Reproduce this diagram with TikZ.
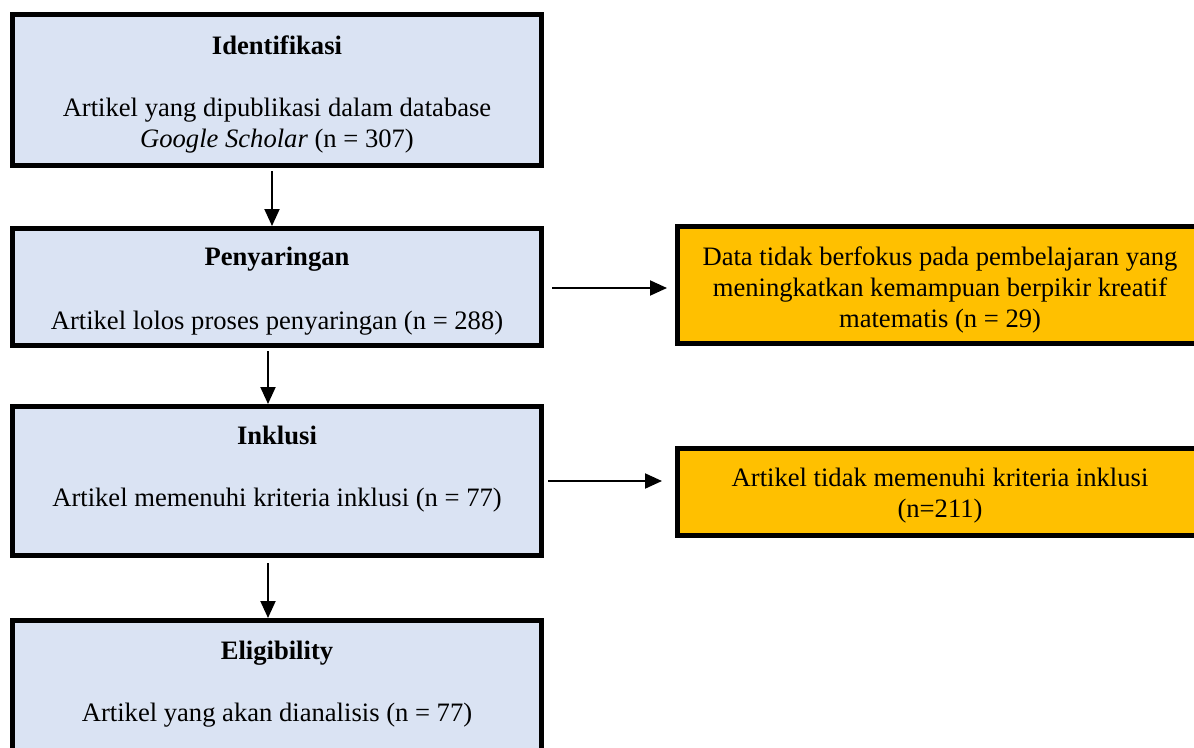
\documentclass[tikz,border=0pt]{standalone}
\usepackage{fontspec}
\setmainfont{Liberation Serif}
\usetikzlibrary{arrows.meta,calc}
\definecolor{boxblue}{HTML}{DAE3F3}
\definecolor{boxorange}{HTML}{FFC000}
\newcommand\padtop[2]{\raisebox{0pt}[\dimexpr\height+#1\relax]{#2}}
\tikzset{
  stage/.style={draw=black, line width=5pt, fill=boxblue, align=center, inner sep=0pt,
    minimum width=529pt, font=\fontsize{26.6}{31}\selectfont},
  excl/.style={draw=black, line width=5pt, fill=boxorange, align=center, inner sep=0pt,
    minimum width=525pt, font=\fontsize{26.6}{31}\selectfont},
  flow/.style={line width=2pt, -{Triangle[length=17pt,width=15pt]}},
}
\begin{document}
\begin{tikzpicture}[x=1pt,y=-1pt]
\useasboundingbox (0,0) rectangle (1194,747);
\node[stage, minimum height=151pt] (b1) at (277,90) {\padtop{8pt}{\textbf{Identifikasi}}\\ ~ \\ Artikel yang dipublikasi dalam database\\ \textit{Google Scholar} (n = 307)};
\node[stage, minimum height=117pt] (b2) at (277,287) {\padtop{9pt}{\textbf{Penyaringan}}\\[2pt] ~ \\ Artikel lolos proses penyaringan (n = 288)};
\node[stage, minimum height=149pt] (b3) at (277,481) {\padtop{2pt}{\textbf{Inklusi}}\\ ~ \\ Artikel memenuhi kriteria inklusi (n = 77)\\ ~};
\node[stage, minimum height=149pt] (b4) at (277,695) {\padtop{4pt}{\textbf{Eligibility}}\\ ~ \\ Artikel yang akan dianalisis (n = 77)\\ ~};
\node[excl, minimum height=117pt] (o1) at (940,285) {\padtop{9pt}{Data tidak berfokus pada pembelajaran yang}\\ meningkatkan kemampuan berpikir kreatif\\ matematis (n = 29)};
\node[excl, minimum height=87pt] (o2) at (940,492) {\padtop{8pt}{Artikel tidak memenuhi kriteria inklusi}\\ (n=211)};
\coordinate (a2s) at ($(b2.east)+(0,1)$);
\coordinate (a2e) at (a2s -| o1.west);
\coordinate (a3e) at (b3.east -| o2.west);
\draw[flow, shorten <=3pt] ($(b1.south)+(-5,0)$) -- ($(b2.north)+(-5,0)$);
\draw[flow, shorten <=3pt] ($(b2.south)+(-9,0)$) -- ($(b3.north)+(-9,0)$);
\draw[flow, shorten <=5pt] ($(b3.south)+(-9,0)$) -- ($(b4.north)+(-9,0)$);
\draw[flow, shorten <=8pt, shorten >=8pt] (a2s) -- (a2e);
\draw[flow, shorten <=4pt, shorten >=13pt] (b3.east) -- (a3e);
\end{tikzpicture}
\end{document}
